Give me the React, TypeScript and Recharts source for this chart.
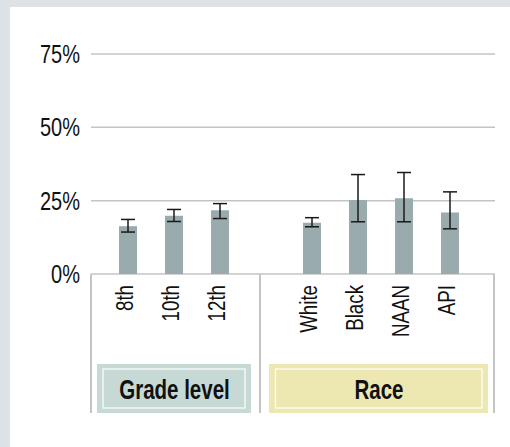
import React from "react"
import { Bar, BarChart, CartesianGrid, ErrorBar, XAxis, YAxis } from "recharts"

const categories = ["8th", "10th", "12th", "", "White", "Black", "NAAN", "API"]
const shares = [16.3, 19.9, 21.7, null, 17.5, 25.2, 25.8, 21.0]
const lower = [14.3, 17.9, 18.9, null, 16.1, 17.8, 17.8, 15.4]
const upper = [18.6, 22.0, 24.0, null, 19.2, 33.9, 34.6, 28.0]
const yTicks = [0, 25, 50, 75]

const data = categories.map((name, i) => {
  const v = shares[i]
  const lo = lower[i]
  const hi = upper[i]
  return {
    name,
    share: v,
    err: v == null || lo == null || hi == null ? undefined : [v - lo, hi - v],
  }
})

// no condensed font installed, so squeeze Liberation Sans horizontally
const FONT = '"Liberation Sans", Arial, sans-serif'

function NarrowText({ x, y, anchor, size, scale, bold, rotate, children }: any) {
  const rot = rotate ? " rotate(-90)" : ""
  return (
    <text
      transform={`translate(${x},${y})${rot} scale(${scale},1)`}
      textAnchor={anchor}
      fontSize={size}
      fontWeight={bold ? "bold" : "normal"}
      fontFamily={FONT}
      fill="#111"
    >
      {children}
    </text>
  )
}

function XTick(props: any) {
  const { x, y, payload } = props
  return (
    <NarrowText x={x + 5} y={y + 11} anchor="end" size={24} scale={0.78} rotate>
      {payload.value}
    </NarrowText>
  )
}

function YTick(props: any) {
  const { x, y, payload } = props
  return (
    <NarrowText x={x} y={y + 9} anchor="end" size={25} scale={0.8}>
      {`${payload.value}%`}
    </NarrowText>
  )
}

export default function App() {
  return (
    <div style={{ position: "relative", width: 510, height: 447, background: "#dce2e5", overflow: "hidden" }}>
      <style>{`body{margin:0}`}</style>
      <div style={{ position: "absolute", left: 10, top: 7, width: 500, height: 440, background: "#fff" }} />
      <div style={{ position: "absolute", left: 0, top: 0 }}>
        <BarChart
          width={510}
          height={447}
          data={data}
          margin={{ top: 54, right: 15, bottom: 113, left: 10 }}
        >
          <CartesianGrid vertical={false} stroke="#c4c4c4" strokeWidth={1.5} />
          <XAxis
            dataKey="name"
            height={60}
            axisLine={false}
            tickLine={false}
            tickSize={0}
            tickMargin={0}
            interval={0}
            padding={{ left: 14, right: 22 }}
            tick={<XTick />}
          />
          <YAxis
            width={81}
            domain={[0, 75]}
            ticks={yTicks}
            axisLine={false}
            tickLine={false}
            tickSize={0}
            tickMargin={11}
            tick={<YTick />}
          />
          <Bar dataKey="share" fill="#9aabae" barSize={18} isAnimationActive={false}>
            <ErrorBar dataKey="err" width={7} stroke="#1a1a1a" strokeWidth={1.5} direction="y" />
          </Bar>
        </BarChart>
      </div>
      <svg width={510} height={447} style={{ position: "absolute", left: 0, top: 0, pointerEvents: "none" }}>
        <line x1={91} y1={274} x2={91} y2={413} stroke="#c4c4c4" strokeWidth={2} />
        <line x1={260} y1={274} x2={260} y2={413} stroke="#c4c4c4" strokeWidth={2} />
        <line x1={494} y1={274} x2={494} y2={413} stroke="#c4c4c4" strokeWidth={2} />
        <rect x={97} y={364} width={154} height={49} fill="#c6d9d5" />
        <rect x={103} y={369} width={142} height={39} fill="none" stroke="#fff" strokeWidth={1.2} />
        <NarrowText x={174.5} y={399} anchor="middle" size={27} scale={0.76} bold>
          Grade level
        </NarrowText>
        <rect x={269} y={364} width={219} height={49} fill="#ede8b1" />
        <rect x={275.5} y={369} width={206.5} height={39} fill="none" stroke="#fff" strokeWidth={1.2} />
        <NarrowText x={379} y={399} anchor="middle" size={27} scale={0.76} bold>
          Race
        </NarrowText>
      </svg>
    </div>
  )
}
